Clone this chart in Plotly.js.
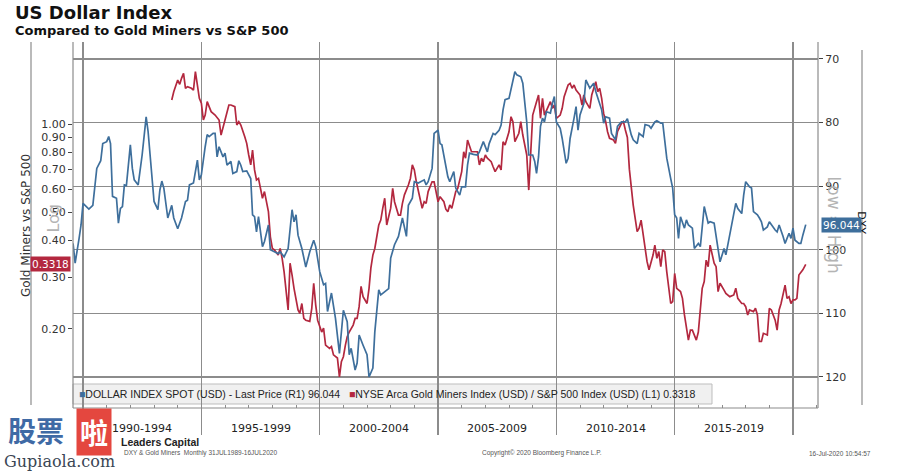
<!DOCTYPE html>
<html>
<head>
<meta charset="utf-8">
<script src="https://cdn.plot.ly/plotly-3.0.1.min.js"></script>
<style>html,body{margin:0;padding:0;background:#fff;}#chart{width:909px;height:471px;}</style>
</head>
<body>
<div id="chart"></div>
<script>
// ---------- DATA ----------
const dxyDates = ['1989-07-31','1989-09','1989-11','1989-12','1990-01','1990-04','1990-06','1990-08','1990-10','1990-11',
'1991-01','1991-02','1991-03','1991-04','1991-06','1991-07','1991-08','1991-09','1991-10','1991-11',
'1992-01','1992-02','1992-03','1992-05','1992-07','1992-09','1992-10','1992-12',
'1993-01','1993-03','1993-04','1993-05','1993-06','1993-08','1993-10','1993-11',
'1994-01','1994-03','1994-05','1994-06','1994-07','1994-09','1994-11','1994-12',
'1995-01','1995-03','1995-04','1995-05','1995-07','1995-08','1995-09','1995-10','1995-12',
'1996-01','1996-02','1996-04','1996-05','1996-07','1996-08','1996-09','1996-10','1996-12',
'1997-02','1997-03','1997-04','1997-05','1997-06','1997-08','1997-09','1997-11','1997-12',
'1998-02','1998-04','1998-05','1998-07','1998-09','1998-11','1998-12',
'1999-01','1999-02','1999-04','1999-06','1999-08','1999-10','1999-11',
'2000-01','2000-03','2000-04','2000-05','2000-07','2000-09','2000-11','2000-12',
'2001-01','2001-03','2001-04','2001-05','2001-07','2001-08','2001-09','2001-11',
'2002-01','2002-02','2002-04','2002-05','2002-07','2002-08','2002-10','2002-12',
'2003-01','2003-03','2003-05','2003-07','2003-09','2003-10','2003-12',
'2004-01','2004-03','2004-04','2004-06','2004-07','2004-08','2004-10','2004-11',
'2005-01','2005-02','2005-03','2005-04','2005-06','2005-07','2005-09','2005-10','2005-12',
'2006-01','2006-03','2006-04','2006-05','2006-07','2006-09','2006-10','2006-12',
'2007-02','2007-03','2007-05','2007-06','2007-08','2007-09','2007-10','2007-11',
'2008-01','2008-02','2008-04','2008-05','2008-07','2008-08','2008-09','2008-10','2008-11',
'2009-01','2009-02','2009-03','2009-04','2009-05','2009-06','2009-07','2009-08','2009-10','2009-11','2009-12',
'2010-01','2010-03','2010-04','2010-06','2010-07','2010-08','2010-10','2010-11','2010-12',
'2011-01','2011-03','2011-04','2011-06','2011-07','2011-08','2011-09','2011-11','2011-12',
'2012-01','2012-02','2012-04','2012-05','2012-07','2012-08','2012-10','2012-12',
'2013-01','2013-03','2013-04','2013-06','2013-07','2013-09','2013-10','2013-12',
'2014-01','2014-03','2014-04','2014-06','2014-07','2014-08','2014-09','2014-11','2014-12',
'2015-01','2015-02','2015-03','2015-04','2015-06','2015-07','2015-08','2015-10','2015-11',
'2016-01','2016-02','2016-03','2016-04','2016-06','2016-07','2016-09','2016-10','2016-11','2016-12',
'2017-02','2017-03','2017-04','2017-06','2017-08','2017-09','2017-11','2017-12',
'2018-01','2018-03','2018-04','2018-05','2018-07','2018-08','2018-09','2018-10','2018-12',
'2019-01','2019-02','2019-04','2019-05','2019-06','2019-08','2019-09','2019-11','2019-12',
'2020-01','2020-02','2020-04','2020-05','2020-06','2020-07-16'];
const dxyValues = [99.0,102.1,98.2,96.1,92.7,93.6,93.0,87.2,86.0,83.3,
83.0,82.2,83.3,91.6,91.9,95.8,93.5,93.2,89.8,89.9,
83.5,87.2,89.0,89.8,85.1,79.1,81.4,89.3,
92.4,93.7,90.6,89.2,90.3,95.0,93.0,95.0,
96.7,95.0,92.4,92.2,89.8,89.5,85.9,89.0,
88.2,83.8,81.9,82.2,81.7,81.7,85.4,83.8,85.4,
84.8,86.7,86.1,88.0,87.7,86.0,86.7,87.7,87.6,
88.8,94.5,94.8,97.2,94.8,99.5,98.7,96.1,100.0,
100.3,100.6,100.3,101.1,99.8,93.7,95.6,
94.5,97.7,99.8,102.7,100.3,98.5,99.5,
103.4,105.5,105.3,109.7,106.8,110.8,116.3,112.9,
109.5,111.3,116.5,115.5,118.9,117.8,113.4,115.0,
116.5,120.0,118.6,112.9,106.3,107.1,106.6,106.1,
101.3,99.2,97.9,95.0,97.9,93.0,91.9,
89.3,89.5,89.3,89.0,89.8,89.3,87.2,81.7,
81.2,83.3,83.5,85.1,88.5,89.3,87.7,90.3,91.4,
90.1,90.1,86.7,84.8,85.0,85.1,84.6,83.0,
84.6,83.3,81.7,81.9,81.2,80.4,78.0,76.4,
76.2,74.6,72.0,72.5,72.8,73.8,77.2,79.9,85.1,
85.1,86.1,88.0,85.4,80.6,79.3,79.9,78.3,78.5,77.0,75.9,
79.9,80.9,82.5,86.4,85.6,82.5,79.3,77.5,81.2,
78.8,77.0,73.3,74.6,74.1,73.8,75.1,77.2,78.0,
80.1,79.1,79.3,81.7,82.7,80.6,79.9,79.9,
79.4,81.9,82.7,83.3,81.7,82.2,80.3,80.5,
80.9,79.9,79.7,80.1,80.1,82.5,85.6,88.8,90.3,
94.5,95.0,98.2,94.8,96.6,95.3,96.1,96.6,99.8,
99.0,99.5,96.6,93.2,95.8,95.6,95.8,97.9,100.3,101.9,
99.8,100.8,99.2,96.1,92.7,93.5,94.3,91.4,
89.3,90.1,90.3,94.0,94.5,95.0,95.6,96.9,96.4,
95.6,96.1,96.9,97.2,96.1,97.9,99.0,97.4,98.2,
96.6,98.5,99.0,99.0,97.7,96.044];

const gdmDates = ['1993-10','1993-11','1994-01','1994-02','1994-03','1994-04','1994-05','1994-06','1994-08','1994-09','1994-10','1994-11','1994-12',
'1995-01','1995-02','1995-03','1995-04','1995-05','1995-06','1995-08','1995-10','1995-11','1995-12',
'1996-01','1996-03','1996-04','1996-06','1996-07','1996-08','1996-09','1996-11','1996-12',
'1997-01','1997-02','1997-03','1997-04','1997-05','1997-06','1997-08','1997-09','1997-11','1997-12',
'1998-01','1998-02','1998-04','1998-05','1998-06','1998-07','1998-09','1998-10','1998-11','1998-12',
'1999-02','1999-03','1999-04','1999-05','1999-06','1999-08','1999-09','1999-10','1999-11','1999-12',
'2000-02','2000-03','2000-04','2000-06','2000-07','2000-08','2000-10','2000-11','2000-12',
'2001-01','2001-02','2001-03','2001-04','2001-06','2001-07','2001-08','2001-09','2001-10','2001-11',
'2002-01','2002-02','2002-03','2002-04','2002-05','2002-07','2002-08','2002-09','2002-10','2002-11',
'2003-01','2003-02','2003-03','2003-05','2003-06','2003-07','2003-08','2003-10','2003-11','2003-12',
'2004-01','2004-02','2004-03','2004-05','2004-06','2004-07','2004-08','2004-10','2004-11','2004-12',
'2005-01','2005-02','2005-04','2005-05','2005-06','2005-07','2005-08','2005-10','2005-11',
'2006-01','2006-02','2006-03','2006-04','2006-06','2006-07','2006-09','2006-10','2006-11','2006-12',
'2007-01','2007-02','2007-04','2007-05','2007-06','2007-08','2007-09','2007-10','2007-11',
'2008-01','2008-02','2008-03','2008-04','2008-06','2008-07','2008-08','2008-10','2008-11','2008-12',
'2009-01','2009-03','2009-04','2009-05','2009-06','2009-07','2009-08','2009-10','2009-11','2009-12',
'2010-01','2010-03','2010-04','2010-05','2010-07','2010-08','2010-09','2010-10','2010-11',
'2011-01','2011-02','2011-03','2011-04','2011-05','2011-06','2011-07','2011-09','2011-10','2011-11','2011-12',
'2012-01','2012-02','2012-03','2012-04','2012-06','2012-07','2012-08','2012-10','2012-11','2012-12',
'2013-01','2013-02','2013-03','2013-04','2013-06','2013-07','2013-08','2013-09','2013-10','2013-11','2013-12',
'2014-02','2014-03','2014-04','2014-05','2014-06','2014-07','2014-08','2014-09','2014-11','2014-12',
'2015-01','2015-02','2015-04','2015-05','2015-06','2015-08','2015-09','2015-10','2015-12',
'2016-01','2016-02','2016-03','2016-04','2016-05','2016-06','2016-07','2016-09','2016-10','2016-11','2016-12',
'2017-02','2017-03','2017-05','2017-07','2017-08','2017-09','2017-11','2017-12',
'2018-01','2018-02','2018-03','2018-05','2018-06','2018-07','2018-08','2018-09','2018-10','2018-12',
'2019-01','2019-02','2019-04','2019-05','2019-06','2019-07','2019-09','2019-10','2019-11','2019-12',
'2020-01','2020-02','2020-03','2020-04','2020-06','2020-07-16'];
const gdmValues = [1.207,1.289,1.413,1.366,1.432,1.489,1.324,1.341,1.324,1.306,1.509,1.341,1.224,
1.177,1.032,1.073,1.192,1.146,1.102,1.073,1.032,0.917,0.979,
1.032,1.161,1.161,1.146,0.992,1.019,0.992,0.905,0.859,
0.784,0.725,0.815,0.697,0.644,0.652,0.558,0.588,0.502,0.412,
0.376,0.372,0.357,0.376,0.348,0.313,0.232,0.335,0.305,0.275,
0.232,0.226,0.244,0.217,0.214,0.212,0.235,0.286,0.241,0.214,
0.195,0.201,0.176,0.1715,0.174,0.163,0.159,0.137,0.1545,
0.1606,0.176,0.188,0.195,0.206,0.217,0.217,0.238,0.279,0.2575,
0.244,0.275,0.322,0.357,0.376,0.452,0.470,0.516,0.558,0.452,
0.516,0.603,0.543,0.489,0.489,0.536,0.573,0.619,0.652,0.725,
0.697,0.635,0.595,0.516,0.543,0.536,0.588,0.635,0.635,0.588,
0.543,0.565,0.543,0.512,0.502,0.529,0.516,0.588,0.603,
0.688,0.804,0.764,0.882,0.804,0.804,0.804,0.725,0.764,0.744,
0.784,0.764,0.744,0.715,0.688,0.725,0.697,0.870,0.848,
0.941,1.059,1.019,0.870,0.930,1.019,0.917,0.784,0.595,0.848,
1.073,1.192,1.256,1.046,1.224,1.073,1.116,1.192,1.131,1.161,
1.046,1.073,1.131,1.240,1.359,1.377,1.324,1.359,1.306,
1.256,1.161,1.256,1.192,1.161,1.131,1.256,1.395,1.289,1.324,1.224,
1.087,1.019,0.941,0.894,0.882,0.859,0.941,1.005,1.019,0.954,
0.900,0.700,0.603,0.529,0.429,0.441,0.470,0.418,0.381,0.339,0.318,
0.357,0.386,0.348,0.367,0.326,0.372,0.367,0.313,0.244,0.2475,
0.309,0.275,0.268,0.254,0.223,0.183,0.198,0.198,0.183,
0.195,0.241,0.275,0.290,0.343,0.326,0.386,0.335,0.326,0.268,0.286,
0.271,0.264,0.2575,0.261,0.275,0.254,0.244,0.244,
0.238,0.223,0.232,0.229,0.235,0.223,0.181,0.181,0.193,0.1905,
0.235,0.232,0.214,0.198,0.232,0.244,0.282,0.254,0.2575,0.244,
0.251,0.251,0.254,0.305,0.318,0.3318];

const leftTicks = [0.20,0.30,0.40,0.50,0.60,0.70,0.80,0.90,1.00];
const rightTicks = [70,80,90,100,110,120];
const periodStarts = [1990,1995,2000,2005,2010,2015];
const periodLabels = ['1990-1994','1995-1999','2000-2004','2005-2009','2010-2014','2015-2019'];

const dxyName = 'DOLLAR INDEX SPOT (USD) - Last Price (R1)';
const gdmName = 'NYSE Arca Gold Miners Index (USD) / S&amp;P 500 Index (USD) (L1)';

// ---------- STYLE ----------
const BLUE = '#3e6f9c';
const RED = '#b3283f';
const GRID = '#8c8c8c';
const FONT = 'DejaVu Sans, Verdana, sans-serif';
const SMALL = 'Liberation Sans, Arial, sans-serif';

const lastDxy = dxyValues[dxyValues.length - 1];
const lastGdm = gdmValues[gdmValues.length - 1];

const traces = [
  {x: dxyDates, y: dxyValues, yaxis: 'y2', type: 'scatter', mode: 'lines',
   line: {color: BLUE, width: 1.7}, name: dxyName, hoverinfo: 'skip'},
  {x: gdmDates, y: gdmValues, yaxis: 'y', type: 'scatter', mode: 'lines',
   line: {color: RED, width: 1.7}, name: gdmName, hoverinfo: 'skip'}
];

const annotations = [
  {xref:'paper', yref:'paper', x:-0.0805, y:1.074, xanchor:'left', yanchor:'middle', showarrow:false,
   text:'<b>US Dollar Index</b>', font:{family:FONT, size:18, color:'#111'}},
  {xref:'paper', yref:'paper', x:-0.0805, y:1.030, xanchor:'left', yanchor:'middle', showarrow:false,
   text:'<b>Compared to Gold Miners vs S&amp;P 500</b>', font:{family:FONT, size:13, color:'#111'}},
  {xref:'paper', yref:'paper', x:-0.0752, y:0.534, textangle:-90, showarrow:false,
   text:'Gold Miners vs S&amp;P 500', font:{family:FONT, size:12, color:'#333'}},
  {xref:'paper', yref:'paper', x:-0.0416, y:0.552, textangle:-90, showarrow:false,
   text:'Log', font:{family:FONT, size:16, color:'#b4b4b4'}},
  {xref:'paper', yref:'paper', x:1.0376, y:0.534, textangle:90, showarrow:false,
   text:'Low = High', font:{family:FONT, size:17, color:'#b4b4b4'}},
  {xref:'paper', yref:'paper', x:1.0698, y:0.540, textangle:90, showarrow:false,
   text:'DXY', font:{family:FONT, size:11, color:'#111'}},
  {xref:'paper', yref:'y', x:-0.003, y:Math.log10(lastGdm), xanchor:'right', yanchor:'middle', showarrow:false,
   text:lastGdm.toFixed(4), bgcolor:RED, borderpad:1, font:{family:FONT, size:10.5, color:'#fff'}},
  {xref:'paper', yref:'y2', x:1.004, y:lastDxy, xanchor:'left', yanchor:'middle', showarrow:false,
   text:lastDxy.toFixed(3), bgcolor:BLUE, borderpad:1, font:{family:FONT, size:10.5, color:'#fff'}},
  {xref:'paper', yref:'paper', x:0.006, y:0.1043, xanchor:'left', yanchor:'middle', showarrow:false,
   text:'<span style="color:' + BLUE + '">■</span>' + dxyName + ' ' + lastDxy.toFixed(3) +
        '   <span style="color:' + RED + '">■</span>' + gdmName + ' ' + lastGdm.toFixed(4),
   font:{family:SMALL, size:10.5, color:'#222'}},
  // footer
  {xref:'paper', yref:'paper', x:(119-73)/745, y:(435-442)/393, xanchor:'left', yanchor:'middle', showarrow:false,
   text:'<b>Leaders Capital</b>', font:{family:SMALL, size:10.5, color:'#222'}},
  {xref:'paper', yref:'paper', x:(122-73)/745, y:(435-453)/393, xanchor:'left', yanchor:'middle', showarrow:false,
   text:'DXY &amp; Gold Miners  Monthly 31JUL1989-16JUL2020', font:{family:SMALL, size:6.5, color:'#555'}},
  {xref:'paper', yref:'paper', x:(480-73)/745, y:(435-453)/393, xanchor:'left', yanchor:'middle', showarrow:false,
   text:'Copyright© 2020 Bloomberg Finance L.P.', font:{family:SMALL, size:6.5, color:'#555'}},
  {xref:'paper', yref:'paper', x:(807-73)/745, y:(435-453)/393, xanchor:'left', yanchor:'middle', showarrow:false,
   text:'16-Jul-2020 10:54:57', font:{family:SMALL, size:6.5, color:'#555'}}
];

periodStarts.forEach((yr, i) => {
  annotations.push({xref:'x', yref:'paper', x:(yr + 2) + '-07-02', y:(435-428)/393,
    xanchor:'center', yanchor:'middle', showarrow:false, text:periodLabels[i],
    font:{family:FONT, size:11, color:'#222'}});
});

// watermark
annotations.push(
  {xref:'paper', yref:'paper', x:(36-73)/745, y:(435-430)/393, xanchor:'center', yanchor:'middle', showarrow:false,
   text:'<b>股票</b>', font:{family:'Noto Sans CJK SC', size:28, color:'#3f6aa5'}},
  {xref:'paper', yref:'paper', x:(94-73)/745, y:(435-432)/393, xanchor:'center', yanchor:'middle', showarrow:false,
   text:'<b>啦</b>', bgcolor:'#e4473f', borderpad:3, font:{family:'Noto Sans CJK SC', size:28, color:'#fff'}},
  {xref:'paper', yref:'paper', x:(59-73)/745, y:(435-461)/393, xanchor:'center', yanchor:'middle', showarrow:false,
   text:'Gupiaola.com', font:{family:'DejaVu Serif, serif', size:16, color:'#3a4654'}}
);

const BOT = (435-408)/393;
const shapes = [
  {type:'line', xref:'paper', yref:'paper', x0:0, x1:0, y0:BOT, y1:1, line:{color:GRID, width:1.2}},
  {type:'line', xref:'paper', yref:'paper', x0:1, x1:1, y0:BOT, y1:1, line:{color:GRID, width:1.2}},
  {type:'line', xref:'paper', yref:'paper', x0:0, x1:1, y0:BOT, y1:BOT, line:{color:GRID, width:1.2}},
  {type:'line', xref:'paper', yref:'paper', x0:(31-73)/745, x1:(31-73)/745, y0:(435-405)/393, y1:1, line:{color:GRID, width:1.2}},
  {type:'line', xref:'paper', yref:'paper', x0:(862-73)/745, x1:(862-73)/745, y0:(435-405)/393, y1:(435-50)/393, line:{color:GRID, width:1.2}},
  {type:'rect', xref:'paper', yref:'paper', x0:0, x1:(712-73)/745, y0:(435-404)/393, y1:(435-384)/393,
   fillcolor:'rgba(228,228,228,0.55)', line:{color:'#bdbdbd', width:1}, layer:'below'}
];

const layout = {
  width: 909, height: 471,
  margin: {l:73, r:91, t:42, b:36, pad:0},
  paper_bgcolor:'#ffffff', plot_bgcolor:'#ffffff',
  showlegend:false,
  font:{family:FONT, size:11, color:'#333'},
  xaxis:{type:'date', range:['1989-07-30','2021-01-21'], anchor:'free', position:BOT,
    showline:false, showgrid:true, gridcolor:GRID, gridwidth:1.2,
    tick0:'1990-01-01', dtick:'M60', ticks:'inside', ticklen:3, tickcolor:GRID, showticklabels:false,
    minor:{tick0:'1990-01-01', dtick:'M12', ticks:'inside', ticklen:3, tickcolor:GRID, showgrid:false},
    zeroline:false, fixedrange:true},
  yaxis:{type:'log', range:[-1.0614, 0.2799], tickmode:'array', tickvals:leftTicks, tickformat:'.2f',
    ticks:'outside', ticklen:4, tickcolor:'#444', showgrid:false, zeroline:false, showline:false,
    tickfont:{family:FONT, size:11, color:'#333'}, fixedrange:true},
  yaxis2:{overlaying:'y', side:'right', anchor:'x', range:[129.12, 67.33], tickmode:'array', tickvals:rightTicks,
    ticks:'outside', ticklen:4, tickcolor:'#444', showgrid:true, gridcolor:GRID, gridwidth:1.2,
    showline:false, zeroline:false, tickfont:{family:FONT, size:11, color:'#333'}, fixedrange:true},
  annotations: annotations,
  shapes: shapes
};

Plotly.newPlot('chart', traces, layout, {displayModeBar:false, staticPlot:true});
</script>
</body>
</html>
